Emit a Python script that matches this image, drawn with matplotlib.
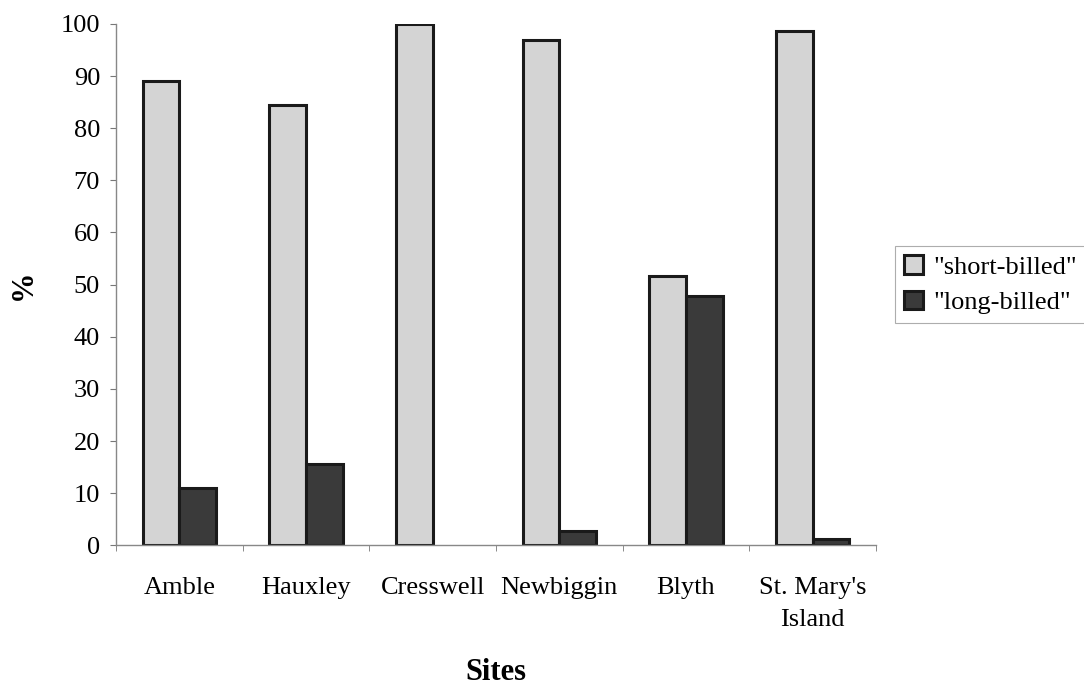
import matplotlib.pyplot as plt
import numpy as np

plt.rcParams['font.family'] = ['Liberation Serif', 'DejaVu Serif']

sites = ['Amble', 'Hauxley', 'Cresswell', 'Newbiggin', 'Blyth', "St. Mary's\nIsland"]
short_billed = [89.0, 84.5, 100.0, 97.0, 51.7, 98.7]
long_billed = [11.0, 15.5, 0.0, 2.7, 47.9, 1.2]

fig = plt.figure(figsize=(10.84, 6.85), dpi=100)
ax = fig.add_axes([0.107, 0.204, 0.701, 0.761])

x = np.arange(len(sites))
w = 0.29
ax.bar(x - w / 2, short_billed, w, color='#d4d4d4', edgecolor='#1a1a1a',
       linewidth=2.2, label='"short-billed"')
ax.bar(x + w / 2, long_billed, w, color='#3a3a3a', edgecolor='#1a1a1a',
       linewidth=[2.2 if v > 0 else 0 for v in long_billed], label='"long-billed"')

ax.set_xlim(-0.5, len(sites) - 0.5)
ax.set_ylim(0, 100)
ax.set_yticks(range(0, 101, 10))
ax.set_xticks(x)
ax.set_xticklabels(sites, fontsize=19, linespacing=1.6)
ax.set_xticks(np.arange(-0.5, len(sites), 1), minor=True)
ax.tick_params(axis='x', which='major', length=0, pad=23)
ax.tick_params(axis='x', which='minor', length=4.5, color='#777777')
ax.tick_params(axis='y', labelsize=19, length=4.5, color='#777777', pad=7)

for s in ['top', 'right']:
    ax.spines[s].set_visible(False)
for s in ['left', 'bottom']:
    ax.spines[s].set_color('#888888')
    ax.spines[s].set_linewidth(1)

ax.set_xlabel('Sites', fontsize=22, fontweight='bold', labelpad=19)
ax.set_ylabel('%', fontsize=22, fontweight='bold', labelpad=16)

leg = ax.legend(loc='center left', bbox_to_anchor=(1.025, 0.50), fontsize=19,
                frameon=True, fancybox=False, handlelength=0.7, handleheight=0.7,
                handletextpad=0.4, borderpad=0.35, labelspacing=0.45,
                borderaxespad=0)
leg.get_frame().set_edgecolor('#999999')
leg.get_frame().set_linewidth(0.8)

fig.savefig('out.png', dpi=100)
